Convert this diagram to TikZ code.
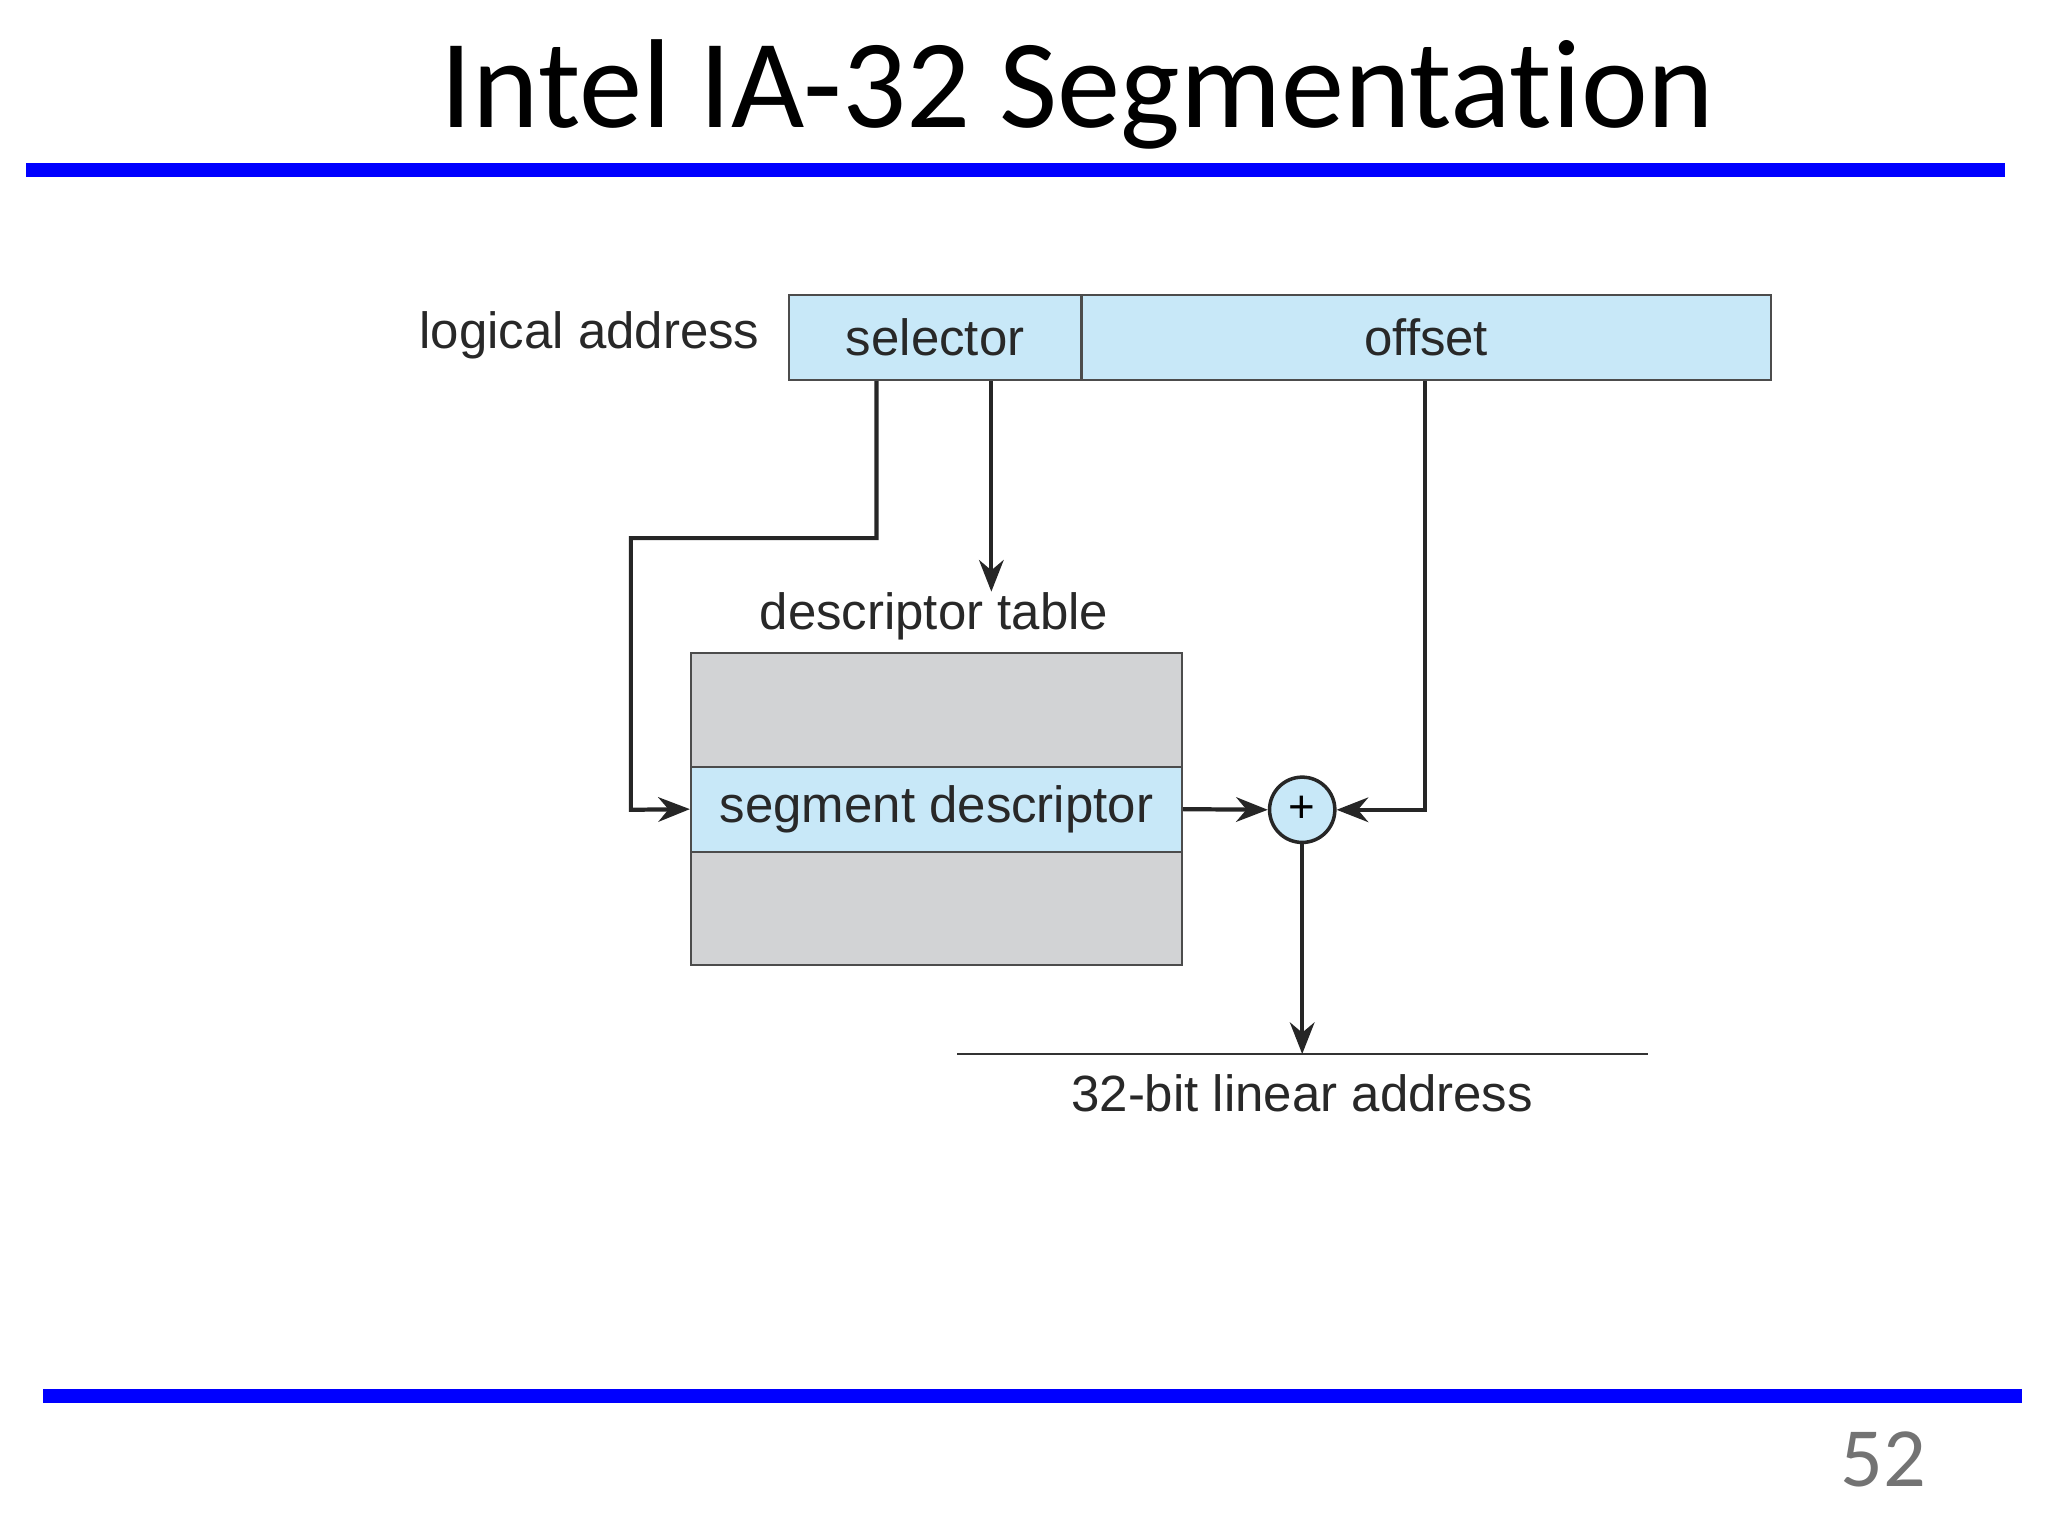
\documentclass[tikz,border=0pt]{standalone}
\usepackage{fontspec}
\setmainfont{Liberation Sans}
\newfontfamily\slidefont[Ligatures={NoCommon}]{Carlito}
\usetikzlibrary{arrows.meta}
\definecolor{slideblue}{RGB}{0,0,255}
\definecolor{cellblue}{RGB}{200,232,248}
\definecolor{tablegray}{RGB}{210,211,213}
\definecolor{textgray}{RGB}{40,40,40}
\tikzset{
  cell/.style={draw=black!70, line width=0.6pt, fill=cellblue, inner sep=0pt},
  lbl/.style={font=\fontsize{14.5pt}{17pt}\selectfont, text=textgray, inner sep=0pt},
  flow/.style={line width=1.2pt, draw=black!85, -{Stealth[length=9pt,width=7pt]}},
  rule/.style={slideblue, line width=4pt}
}
\begin{document}
\begin{tikzpicture}[x=0.01306cm, y=-0.01306cm]
  \useasboundingbox (0,0) rectangle (1568,1176);

  % slide frame
  \node[font=\slidefont\fontsize{36pt}{44pt}\selectfont] (title) at (825,72) {Intel IA-32 Segmentation};
  \draw[rule] (20,130) -- (1535,130);
  \draw[rule] (33,1069) -- (1548,1069);
  \node[font=\slidefont\fontsize{24pt}{28pt}\selectfont, text=black!55] (page) at (1442,1117) {52};

  % logical address
  \node[cell, minimum width={224*0.01306cm}, minimum height={65*0.01306cm}, lbl] (sel) at (716,258.5) {selector};
  \node[cell, minimum width={528*0.01306cm}, minimum height={65*0.01306cm}, lbl] (off) at (1092,258.5) {offset};
  \node[lbl, anchor=east] (la) at (582,257) {logical address};

  % descriptor table
  \draw[draw=black!70, line width=0.6pt, fill=tablegray] (529,500) rectangle (905,739);
  \node[cell, minimum width={376*0.01306cm}, minimum height={65*0.01306cm}, lbl] (seg) at (717,619.5) {segment descriptor};
  \node[lbl] (dt) at (715,472) {descriptor table};

  % adder
  \node[circle, draw=black!85, line width=1pt, fill=cellblue, minimum size={50*0.01306cm}, inner sep=0pt,
        font=\fontsize{13pt}{15pt}\selectfont] (plus) at (997,620) {+};

  % output
  \coordinate (lin) at (997,807);
  \draw[black!80, line width=0.6pt] (733,807) -- (1262,807);
  \node[lbl] (out) at (997,837) {32-bit linear address};

  % connectors
  \draw[flow] (sel.south -| 759,0) -- (759,453);
  \draw[flow] (sel.south -| 671,0) -- (671,412) -- (483,412) -- (483,620) -- (seg.west);
  \draw[flow] (seg.east) -- (plus.west);
  \draw[flow] (off.south -| 1091,0) -- (1091,620) -- (plus.east);
  \draw[flow] (plus.south) -- (lin);
\end{tikzpicture}
\end{document}
